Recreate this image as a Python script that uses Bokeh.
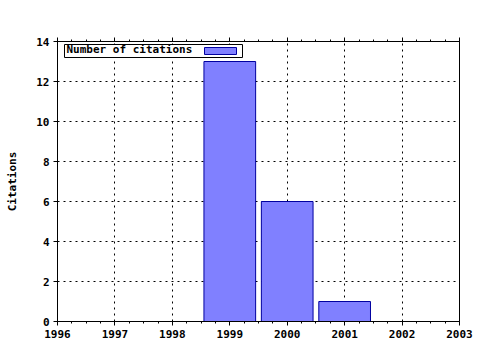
from bokeh.plotting import figure
from bokeh.models import BoxAnnotation, Label, LinearAxis, FixedTicker, Range1d
from bokeh.embed import file_html
from bokeh.resources import INLINE

years = [1999, 2000, 2001]
citations = [13, 6, 1]
x_ticks = [1996, 1997, 1998, 1999, 2000, 2001, 2002, 2003]
y_ticks = [0, 2, 4, 6, 8, 10, 12, 14]
legend_label = "Number of citations"
y_label = "Citations"

FONT = "DejaVu Sans Mono"
BAR_FILL = "#8080ff"
BAR_LINE = "#0000a0"

p = figure(width=480, height=350, output_backend="svg", toolbar_location=None,
           x_range=Range1d(1996, 2003), y_range=Range1d(0, 14),
           min_border_left=57, min_border_right=21, min_border_top=41, min_border_bottom=29)
p.background_fill_color = "white"
p.border_fill_color = "white"
p.outline_line_color = "black"
p.outline_line_width = 1

p.vbar(x=years, top=citations, width=0.9, fill_color=BAR_FILL, line_color=BAR_LINE, line_width=1)

bottom_axis = p.below[0]
left_axis = p.left[0]

minor = [x_ticks[0] + i * 0.25 for i in range(4 * (len(x_ticks) - 1) + 1)]
top_axis = LinearAxis(ticker=FixedTicker(ticks=x_ticks, minor_ticks=minor),
                      major_label_overrides={t: "" for t in x_ticks},
                      major_label_text_alpha=0, major_label_standoff=0)
p.add_layout(top_axis, "above")

for ax in (bottom_axis, left_axis, top_axis):
    ax.major_label_text_font = FONT
    ax.major_label_text_font_style = "bold"
    ax.major_label_text_font_size = "11px"
    ax.axis_line_color = "black"
    ax.major_tick_line_color = "black"
    ax.minor_tick_line_color = "black"
    ax.major_tick_out = 4
    ax.major_tick_in = 0
    ax.minor_tick_out = 2
    ax.minor_tick_in = 0
bottom_axis.major_label_text_color = "black"
left_axis.major_label_text_color = "black"

bottom_axis.ticker = FixedTicker(ticks=x_ticks, minor_ticks=minor)
left_axis.ticker = FixedTicker(ticks=y_ticks)
left_axis.axis_label = y_label
left_axis.axis_label_text_font = FONT
left_axis.axis_label_text_font_style = "bold"
left_axis.axis_label_text_font_size = "11px"
left_axis.axis_label_text_color = "black"
left_axis.axis_label_standoff = 14
bottom_axis.major_label_standoff = 4
left_axis.major_label_standoff = 4

p.xgrid.ticker = FixedTicker(ticks=x_ticks)
p.ygrid.ticker = FixedTicker(ticks=y_ticks)
for g in (p.xgrid[0], p.ygrid[0]):
    g.grid_line_color = "black"
    g.grid_line_dash = "2 4"
    g.grid_line_width = 1

# legend (text then swatch), screen units relative to the plot frame (y up from frame bottom)
su = dict(left_units="screen", right_units="screen", top_units="screen", bottom_units="screen")
box = BoxAnnotation(left=7, right=185, top=277, bottom=264, fill_color="white", fill_alpha=1,
                    line_color="black", line_alpha=1, line_width=1, **su)
sw = BoxAnnotation(left=147, right=179, top=274, bottom=267, fill_color=BAR_FILL, fill_alpha=1,
                   line_color=BAR_LINE, line_alpha=1, line_width=1, **su)
lab = Label(x=9, y=266, x_units="screen", y_units="screen", text=legend_label,
            text_font=FONT, text_font_style="bold", text_font_size="11px", text_color="black")
p.add_layout(box)
p.add_layout(sw)
p.add_layout(lab)

open("out.html", "w").write(file_html(p, INLINE))
